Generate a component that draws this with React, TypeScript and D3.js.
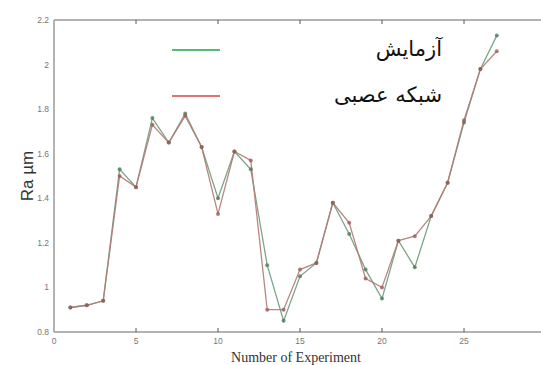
import React, { useEffect, useRef } from 'react'
import * as d3 from 'd3'

const experiments = d3.range(1, 28)
const measured = [0.91, 0.92, 0.94, 1.53, 1.45, 1.76, 1.65, 1.78, 1.63, 1.4, 1.61, 1.53, 1.1, 0.85, 1.05, 1.11, 1.38, 1.24, 1.08, 0.95, 1.21, 1.09, 1.32, 1.47, 1.74, 1.98, 2.13]
const network = [0.91, 0.92, 0.94, 1.5, 1.45, 1.73, 1.65, 1.77, 1.63, 1.33, 1.61, 1.57, 0.9, 0.9, 1.08, 1.11, 1.38, 1.29, 1.04, 1.0, 1.21, 1.23, 1.32, 1.47, 1.75, 1.98, 2.06]
const yTicks = [0.8, 1, 1.2, 1.4, 1.6, 1.8, 2, 2.2]
const xTicks = [0, 5, 10, 15, 20, 25]
const legendLabels = ['آزمایش', 'شبکه عصبی']

const W = 541
const H = 365

const App: React.FC = () => {
  const svgRef = useRef<SVGSVGElement | null>(null)

  useEffect(() => {
    if (!svgRef.current) return
    const svg = d3.select(svgRef.current)
    svg.selectAll('*').remove()

    const x = d3.scaleLinear().domain([0, 30]).range([54, 546])
    const y = d3.scaleLinear().domain([0.8, 2.2]).range([332, 20])

    const axisColor = '#9a9a9a'

    // frame: left, top, bottom (right side falls outside the picture)
    svg.append('line').attr('x1', x(0)).attr('x2', W).attr('y1', y(2.2)).attr('y2', y(2.2))
      .attr('stroke', axisColor).attr('stroke-width', 1.5)
    svg.append('line').attr('x1', x(0)).attr('x2', W).attr('y1', y(0.8)).attr('y2', y(0.8))
      .attr('stroke', axisColor).attr('stroke-width', 1.5)
    svg.append('line').attr('x1', x(0)).attr('x2', x(0)).attr('y1', y(2.2)).attr('y2', y(0.8))
      .attr('stroke', axisColor).attr('stroke-width', 1.5)

    // x ticks (inward on bottom and top)
    xTicks.forEach((t) => {
      if (t === 0) return
      svg.append('line').attr('x1', x(t)).attr('x2', x(t)).attr('y1', y(0.8)).attr('y2', y(0.8) - 4)
        .attr('stroke', '#555').attr('stroke-width', 1)
      svg.append('line').attr('x1', x(t)).attr('x2', x(t)).attr('y1', y(2.2)).attr('y2', y(2.2) + 4)
        .attr('stroke', '#555').attr('stroke-width', 1)
    })
    svg.append('g').selectAll('text').data(xTicks).join('text')
      .attr('x', (d) => x(d)).attr('y', y(0.8) + 12)
      .attr('text-anchor', 'middle').attr('font-size', 8.5)
      .attr('font-family', 'Liberation Sans, sans-serif').attr('fill', '#777')
      .text((d) => d)

    svg.append('g').selectAll('text').data(yTicks).join('text')
      .attr('x', x(0) - 5).attr('y', (d) => y(d) + 3)
      .attr('text-anchor', 'end').attr('font-size', 8.5)
      .attr('font-family', 'Liberation Sans, sans-serif').attr('fill', '#777')
      .text((d) => d3.format('.1f')(d).replace(/\.0$/, ''))

    // axis titles
    svg.append('text')
      .attr('transform', `translate(33,${(y(2.2) + y(0.8)) / 2}) rotate(-90)`)
      .attr('text-anchor', 'middle').attr('font-size', 17)
      .attr('font-family', 'Liberation Sans, Arial, sans-serif').attr('fill', '#333')
      .text('Ra µm')
    svg.append('text')
      .attr('x', 296).attr('y', 362)
      .attr('text-anchor', 'middle').attr('font-size', 14)
      .attr('font-family', 'Liberation Serif, Times New Roman, serif').attr('fill', '#333')
      .text('Number of Experiment')

    const series = [
      { values: measured, line: '#6f9a7c', dot: '#4f7a5c' },
      { values: network, line: '#b07a74', dot: '#a05a5a' }
    ]

    const line = d3.line<number>()
      .x((_, i) => x(experiments[i]))
      .y((d) => y(d))

    series.forEach((s) => {
      svg.append('path').datum(s.values).attr('d', line)
        .attr('fill', 'none').attr('stroke', s.line).attr('stroke-width', 1.3).attr('stroke-opacity', 0.9)
    })
    series.forEach((s) => {
      svg.append('g').selectAll('circle').data(s.values).join('circle')
        .attr('cx', (_, i) => x(experiments[i])).attr('cy', (d) => y(d))
        .attr('r', 2).attr('fill', s.dot).attr('fill-opacity', 0.8)
    })

    // legend
    const legendColors = ['#1aa64a', '#d04848']
    legendLabels.forEach((label, i) => {
      const ly = 50 + i * 46
      svg.append('line').attr('x1', 172).attr('x2', 220).attr('y1', ly).attr('y2', ly)
        .attr('stroke', legendColors[i]).attr('stroke-width', 1.6)
      svg.append('text').attr('x', 442).attr('y', ly + 6)
        .attr('text-anchor', 'end').attr('font-size', 21)
        .attr('font-family', 'DejaVu Sans, sans-serif').attr('fill', '#111')
        .text(label)
    })
  }, [])

  return (
    <svg
      ref={svgRef}
      width={W}
      height={H}
      style={{ position: 'absolute', left: 0, top: 0, background: '#fff' }}
    />
  )
}

export default App
